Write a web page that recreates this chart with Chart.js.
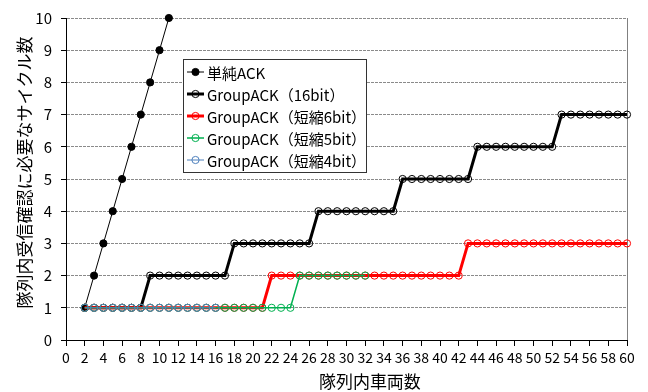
<!DOCTYPE html>
<html>
<head>
<meta charset="utf-8">
<script src="https://cdn.jsdelivr.net/npm/chart.js@4.4.0/dist/chart.umd.min.js"></script>
<style>
  html, body { margin: 0; padding: 0; background: #fff; }
  #wrap { width: 648px; height: 392px; }
</style>
</head>
<body>
<div id="wrap"><canvas id="chartCanvas"></canvas></div>
<script>
// 隊列内車両数
const vehicles = [2,3,4,5,6,7,8,9,10,11,12,13,14,15,16,17,18,19,20,21,22,23,24,25,26,27,28,29,30,31,
  32,33,34,35,36,37,38,39,40,41,42,43,44,45,46,47,48,49,50,51,52,53,54,55,56,57,58,59,60];

// 単純ACK (x = 2..11)
const simpleAck = [1,2,3,4,5,6,7,8,9,10];

// GroupACK(16bit) (x = 2..60)
const group16 = [1,1,1,1,1,1,1,
  2,2,2,2,2,2,2,2,2,
  3,3,3,3,3,3,3,3,3,
  4,4,4,4,4,4,4,4,4,
  5,5,5,5,5,5,5,5,
  6,6,6,6,6,6,6,6,6,
  7,7,7,7,7,7,7,7];

// GroupACK(短縮6bit) (x = 2..60)
const group6 = [1,1,1,1,1,1,1,1,1,1,1,1,1,1,1,1,1,1,1,1,
  2,2,2,2,2,2,2,2,2,2,2,2,2,2,2,2,2,2,2,2,2,
  3,3,3,3,3,3,3,3,3,3,3,3,3,3,3,3,3,3];

// GroupACK(短縮5bit) (x = 2..32)
const group5 = [1,1,1,1,1,1,1,1,1,1,1,1,1,1,1,1,1,1,1,1,1,1,1,
  2,2,2,2,2,2,2,2];

// GroupACK(短縮4bit) (x = 2..16)
const group4 = [1,1,1,1,1,1,1,1,1,1,1,1,1,1,1];

const FONT = '"Noto Sans CJK JP", "Noto Sans", sans-serif';

function pairs(values) {
  return values.map((v, i) => ({ x: vehicles[i], y: v }));
}

function series(label, values, color, width, filled, order) {
  return {
    label: label,
    data: pairs(values),
    borderColor: color,
    borderWidth: width,
    pointRadius: 3.6,
    pointBorderWidth: 1,
    pointBorderColor: color,
    pointBackgroundColor: filled ? color : 'rgba(0,0,0,0)',
    tension: 0,
    clip: false,
    order: order
  };
}

// 凡例 (枠付き)
const boxLegend = {
  id: 'boxLegend',
  afterDraw(chart) {
    const c = chart.ctx;
    const bx = 183, by = 59, bw = 183, bh = 113;
    c.save();
    c.fillStyle = '#fff';
    c.fillRect(bx, by, bw, bh);
    c.strokeStyle = '#333';
    c.lineWidth = 1;
    c.strokeRect(bx + 0.5, by + 0.5, bw, bh);
    c.font = '15px ' + FONT;
    c.textBaseline = 'middle';
    chart.data.datasets.forEach((ds, i) => {
      const cy = by + 13 + i * 22;
      c.strokeStyle = ds.borderColor;
      c.lineWidth = ds.borderWidth;
      c.beginPath();
      c.moveTo(187, cy);
      c.lineTo(204, cy);
      c.stroke();
      c.beginPath();
      c.arc(195.5, cy, 3.6, 0, Math.PI * 2);
      c.fillStyle = ds.pointBackgroundColor;
      c.fill();
      c.lineWidth = 1;
      c.stroke();
      c.fillStyle = '#000';
      c.fillText(ds.label, 207, cy + 1);
    });
    c.restore();
  }
};

// 軸タイトル
const axisTitles = {
  id: 'axisTitles',
  afterDraw(chart) {
    const c = chart.ctx;
    const xs = chart.scales.x, ys = chart.scales.y;
    c.save();
    c.fillStyle = '#000';
    c.font = '17px ' + FONT;
    c.textAlign = 'center';
    c.textBaseline = 'middle';
    c.fillText('隊列内車両数', xs.getPixelForValue(32.5), 382);
    c.translate(25, ys.getPixelForValue(5.2));
    c.rotate(-Math.PI / 2);
    c.fillText('隊列内受信確認に必要なサイクル数', 0, 0);
    c.restore();
  }
};

const ctx = document.getElementById('chartCanvas').getContext('2d');
const chart = new Chart(ctx, {
  type: 'line',
  data: {
    datasets: [
      series('単純ACK', simpleAck, '#000000', 1, true, 5),
      series('GroupACK（16bit）', group16, '#000000', 3, false, 4),
      series('GroupACK（短縮6bit）', group6, '#ff0000', 3, false, 3),
      series('GroupACK（短縮5bit）', group5, '#00b050', 1.5, false, 2),
      series('GroupACK（短縮4bit）', group4, '#4f81bd', 1, false, 1)
    ]
  },
  options: {
    responsive: true,
    maintainAspectRatio: false,
    animation: false,
    layout: { padding: { left: 0, right: 21, top: 16, bottom: 0 } },
    plugins: {
      legend: { display: false },
      tooltip: { enabled: false }
    },
    scales: {
      x: {
        type: 'linear',
        min: 0,
        max: 60,
        ticks: {
          stepSize: 2,
          autoSkip: false,
          maxRotation: 0,
          color: '#000',
          padding: 3,
          font: { family: FONT, size: 14 }
        },
        grid: {
          color: c => (c.tick && c.tick.value === 60) ? '#808080' : 'rgba(0,0,0,0)',
          tickColor: '#000',
          tickLength: 6
        },
        border: { color: '#000', width: 1 },
        afterFit: s => { s.height = 52; }
      },
      y: {
        min: 0,
        max: 10,
        ticks: {
          stepSize: 1,
          color: '#000',
          padding: 9,
          font: { family: FONT, size: 15 }
        },
        grid: {
          color: '#8a8a8a',
          tickColor: '#000',
          tickLength: 5
        },
        border: { color: '#000', width: 1, dash: [3, 1] },
        afterFit: s => { s.width = 66; }
      }
    }
  },
  plugins: [boxLegend, axisTitles]
});
</script>
</body>
</html>
